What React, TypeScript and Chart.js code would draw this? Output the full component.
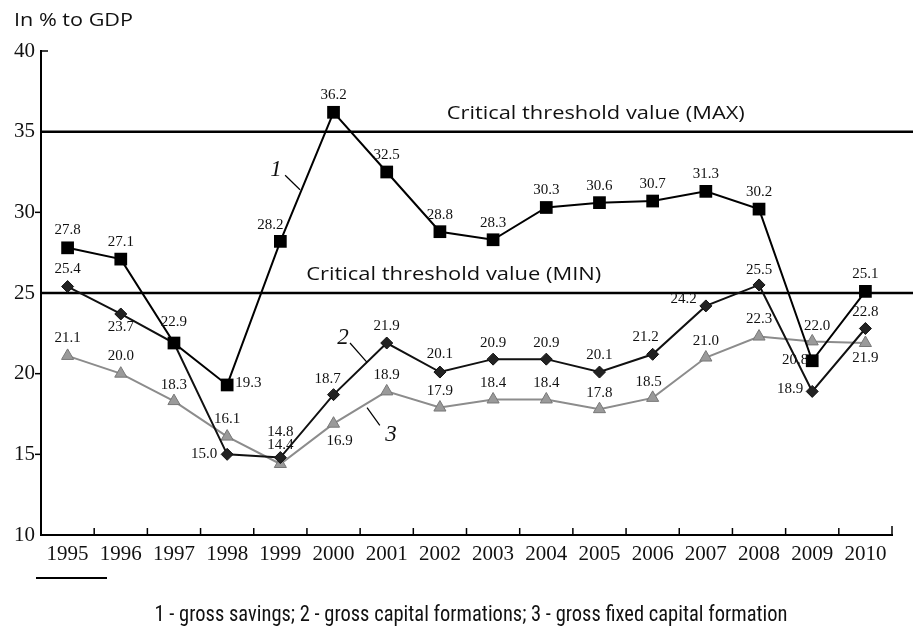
import React, { useEffect, useRef } from 'react';
import { Chart, registerables } from 'chart.js';

Chart.register(...registerables);

// ---------- data ----------
const years = ['1995', '1996', '1997', '1998', '1999', '2000', '2001', '2002', '2003', '2004', '2005', '2006', '2007', '2008', '2009', '2010'];
const yTicks = [10, 15, 20, 25, 30, 35, 40];

const grossSavings = [27.8, 27.1, 21.9, 19.3, 28.2, 36.2, 32.5, 28.8, 28.3, 30.3, 30.6, 30.7, 31.3, 30.2, 20.8, 25.1];
const grossSavingsLabels = ['27.8', '27.1', '22.9', '19.3', '28.2', '36.2', '32.5', '28.8', '28.3', '30.3', '30.6', '30.7', '31.3', '30.2', '20.8', '25.1'];

const grossCapital = [25.4, 23.7, 21.9, 15.0, 14.8, 18.7, 21.9, 20.1, 20.9, 20.9, 20.1, 21.2, 24.2, 25.5, 18.9, 22.8];
const grossCapitalLabels = ['25.4', '23.7', '', '15.0', '14.8', '18.7', '21.9', '20.1', '20.9', '20.9', '20.1', '21.2', '24.2', '25.5', '18.9', '22.8'];

const grossFixed = [21.1, 20.0, 18.3, 16.1, 14.4, 16.9, 18.9, 17.9, 18.4, 18.4, 17.8, 18.5, 21.0, 22.3, 22.0, 21.9];
const grossFixedLabels = ['21.1', '20.0', '18.3', '16.1', '14.4', '16.9', '18.9', '17.9', '18.4', '18.4', '17.8', '18.5', '21.0', '22.3', '22.0', '21.9'];

const thresholdMax = 35;
const thresholdMin = 25;
const thresholdMaxText = 'Critical threshold value (MAX)';
const thresholdMinText = 'Critical threshold value (MIN)';
const yTitle = 'In % to GDP';
const footnote = '1 - gross savings; 2 - gross capital formations; 3 - gross fixed capital formation';

// ---------- label placement (pixel offsets from the point: dx, dy, align) ----------
type Place = [number, number, CanvasTextAlign];
const savingsPlace: Place[] = [
  [0, -18, 'center'], [0, -17, 'center'], [0, -21, 'center'], [8, -2, 'left'], [-10, -16, 'center'], [0, -17, 'center'],
  [0, -17, 'center'], [0, -17, 'center'], [0, -17, 'center'], [0, -17, 'center'], [0, -17, 'center'], [0, -17, 'center'],
  [0, -17, 'center'], [0, -17, 'center'], [-4, -1, 'right'], [0, -17, 'center'],
];
const capitalPlace: Place[] = [
  [0, -17, 'center'], [0, 13, 'center'], [0, -17, 'center'], [-10, 0, 'right'], [0, -25, 'center'], [-6, -16, 'center'],
  [0, -17, 'center'], [0, -18, 'center'], [0, -16, 'center'], [0, -16, 'center'], [0, -17, 'center'], [-7, -17, 'center'],
  [-9, -7, 'right'], [0, -15, 'center'], [-9, -2, 'right'], [0, -16, 'center'],
];
const fixedPlace: Place[] = [
  [0, -18, 'center'], [0, -18, 'center'], [0, -16, 'center'], [0, -18, 'center'], [0, -19, 'center'], [6, 17, 'center'],
  [0, -16, 'center'], [0, -16, 'center'], [0, -16, 'center'], [0, -16, 'center'], [0, -16, 'center'], [-4, -16, 'center'],
  [0, -16, 'center'], [0, -17, 'center'], [5, -15, 'center'], [0, 15, 'center'],
];

// series callouts: text, text anchor (category index, value), leader from -> to
const callouts = [
  { text: '1', at: [3.92, 32.6], from: [4.09, 32.3], to: [4.37, 31.4] },
  { text: '2', at: [5.18, 22.2], from: [5.31, 21.9], to: [5.63, 20.7] },
  { text: '3', at: [6.08, 16.2], from: [5.87, 16.8], to: [5.63, 17.9] },
];

const SERIF = '"Liberation Serif", "Times New Roman", serif';
const SANS = '"Open Sans", "DejaVu Sans", sans-serif';
const NARROW = '"Liberation Sans Narrow", "Roboto Condensed", Roboto, "Liberation Sans", sans-serif';

function fitText(ctx: CanvasRenderingContext2D, text: string, x: number, y: number, width: number, font: string, align: CanvasTextAlign) {
  ctx.save();
  ctx.font = font;
  const w = ctx.measureText(text).width;
  const s = w > 0 ? width / w : 1;
  ctx.translate(x, y);
  ctx.scale(s, 1);
  ctx.textAlign = align;
  ctx.textBaseline = 'middle';
  ctx.fillStyle = '#111';
  ctx.fillText(text, 0, 0);
  ctx.restore();
}

const decorPlugin = {
  id: 'decor',
  beforeDatasetsDraw(chart: any) {
    const { ctx, chartArea, scales } = chart;
    const ys = scales.y;
    ctx.save();
    ctx.strokeStyle = '#000';
    ctx.lineWidth = 2.5;
    [thresholdMax, thresholdMin].forEach((v) => {
      const y = ys.getPixelForValue(v);
      ctx.beginPath();
      ctx.moveTo(chartArea.left, y);
      ctx.lineTo(chart.width, y);
      ctx.stroke();
    });
    ctx.restore();
  },
  afterDraw(chart: any) {
    const { ctx, chartArea, scales } = chart;
    const xs = scales.x;
    const ys = scales.y;
    const px = (i: number) => xs.getPixelForValue(0) + i * (xs.getPixelForValue(1) - xs.getPixelForValue(0));
    ctx.save();

    // x axis tick marks (between categories, pointing up)
    ctx.strokeStyle = '#000';
    ctx.lineWidth = 1.5;
    for (let i = 1; i <= years.length; i++) {
      const x = i === years.length ? chartArea.right : (px(i - 1) + px(i)) / 2;
      ctx.beginPath();
      ctx.moveTo(x, chartArea.bottom);
      ctx.lineTo(x, chartArea.bottom - (i === years.length ? 9 : 7));
      ctx.stroke();
    }
    // y axis tick marks
    yTicks.forEach((v) => {
      if (v === 10 || v === thresholdMax || v === thresholdMin) return;
      const y = ys.getPixelForValue(v);
      ctx.beginPath();
      if (v === 40) {
        ctx.moveTo(chartArea.left, y);
        ctx.lineTo(chartArea.left + 7, y);
      } else {
        ctx.moveTo(chartArea.left, y);
        ctx.lineTo(chartArea.left - 6, y);
      }
      ctx.stroke();
    });

    // data labels
    ctx.font = '15px ' + SERIF;
    ctx.fillStyle = '#111';
    ctx.textBaseline = 'middle';
    const series: [number[], string[], Place[]][] = [
      [grossSavings, grossSavingsLabels, savingsPlace],
      [grossCapital, grossCapitalLabels, capitalPlace],
      [grossFixed, grossFixedLabels, fixedPlace],
    ];
    series.forEach(([vals, labels, places]) => {
      vals.forEach((v, i) => {
        const t = labels[i];
        if (!t) return;
        const [dx, dy, al] = places[i];
        ctx.textAlign = al;
        ctx.fillText(t, px(i) + dx, ys.getPixelForValue(v) + dy);
      });
    });

    // callouts
    ctx.font = 'italic 23px ' + SERIF;
    ctx.textAlign = 'center';
    ctx.lineWidth = 1.2;
    callouts.forEach((c) => {
      ctx.fillText(c.text, px(c.at[0]), ys.getPixelForValue(c.at[1]));
      ctx.beginPath();
      ctx.moveTo(px(c.from[0]), ys.getPixelForValue(c.from[1]));
      ctx.lineTo(px(c.to[0]), ys.getPixelForValue(c.to[1]));
      ctx.stroke();
    });

    // threshold captions
    fitText(ctx, thresholdMaxText, px(9.93), ys.getPixelForValue(thresholdMax) - 18, 298, '19px ' + SANS, 'center');
    fitText(ctx, thresholdMinText, px(7.26), ys.getPixelForValue(thresholdMin) - 18, 295, '19px ' + SANS, 'center');

    // axis title
    fitText(ctx, yTitle, 14, 21, 119, '18px ' + SANS, 'left');

    // short rule and footnote
    ctx.strokeStyle = '#000';
    ctx.lineWidth = 2;
    ctx.beginPath();
    ctx.moveTo(36, 578);
    ctx.lineTo(107, 578);
    ctx.stroke();
    fitText(ctx, footnote, 471, 615, 633, '22px ' + NARROW, 'center');

    ctx.restore();
  },
};

export default function App() {
  const ref = useRef<HTMLCanvasElement | null>(null);

  useEffect(() => {
    document.body.style.margin = '0';
    document.body.style.background = '#fff';
    const canvas = ref.current;
    if (!canvas) return;
    const chart = new Chart(canvas, {
      type: 'line',
      data: {
        labels: years,
        datasets: [
          {
            label: 'gross savings',
            data: grossSavings,
            borderColor: '#000',
            backgroundColor: '#000',
            borderWidth: 2,
            pointStyle: 'rect',
            pointRadius: 9,
            pointBorderWidth: 0,
            tension: 0,
          },
          {
            label: 'gross capital formations',
            data: grossCapital,
            borderColor: '#111',
            backgroundColor: '#222',
            borderWidth: 2,
            pointStyle: 'rectRot',
            pointRadius: 6,
            pointBorderWidth: 1,
            pointBorderColor: '#111',
            tension: 0,
          },
          {
            label: 'gross fixed capital formation',
            data: grossFixed,
            borderColor: '#8c8c8c',
            backgroundColor: '#9a9a9a',
            borderWidth: 2,
            pointStyle: 'triangle',
            pointRadius: 7,
            pointBorderWidth: 1,
            pointBorderColor: '#777',
            tension: 0,
          },
        ],
      },
      options: {
        responsive: false,
        animation: false,
        devicePixelRatio: 1,
        layout: { padding: { top: 51, right: 21, left: 0, bottom: 0 } },
        plugins: { legend: { display: false }, tooltip: { enabled: false } },
        scales: {
          x: {
            type: 'category',
            offset: true,
            grid: { display: false, drawTicks: false },
            border: { display: true, color: '#000', width: 2 },
            ticks: { color: '#111', font: { family: SERIF, size: 21 }, padding: 7, maxRotation: 0, autoSkip: false },
            afterFit: (s: any) => { s.height = 95; },
          },
          y: {
            min: 10,
            max: 40,
            grid: { display: false, drawTicks: false },
            border: { display: true, color: '#000', width: 2 },
            ticks: { stepSize: 5, color: '#111', font: { family: SERIF, size: 21 }, padding: 6 },
            afterFit: (s: any) => { s.width = 41; },
          },
        },
      },
      plugins: [decorPlugin],
    } as any);
    return () => chart.destroy();
  }, []);

  return <canvas ref={ref} width={913} height={630} style={{ display: 'block' }} />;
}
